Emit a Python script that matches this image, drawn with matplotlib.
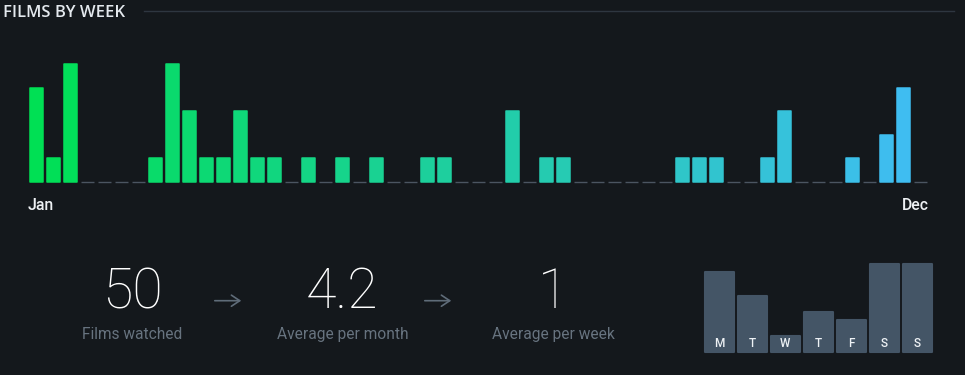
import numpy as np
import matplotlib
matplotlib.use("Agg")
import matplotlib.pyplot as plt
from matplotlib.colors import to_rgb
from matplotlib.lines import Line2D

# ---------------- data ----------------
weekly_films = [4, 1, 5, 0, 0, 0, 0, 1, 5, 3, 1, 1, 3, 1, 1, 0, 1, 0, 1, 0,
                1, 0, 0, 1, 1, 0, 0, 0, 3, 0, 1, 1, 0, 0, 0, 0, 0, 0, 1, 1,
                1, 0, 0, 1, 3, 0, 0, 0, 1, 0, 2, 4, 0]
axis_labels = ["Jan", "Dec"]
title = "FILMS BY WEEK"
stat_values = ["50", "4.2", "1"]
stat_labels = ["Films watched", "Average per month", "Average per week"]
day_labels = ["M", "T", "W", "T", "F", "S", "S"]
day_counts = [10, 7, 2, 5, 4, 11, 11]

# ---------------- style ----------------
BG = "#14181c"
W, H = 965, 375
fig = plt.figure(figsize=(W / 100, H / 100), dpi=100, facecolor=BG)

def fx(px):
    return px / W

def fy(py):
    return (H - py) / H

# title + rule
fig.text(fx(3), fy(17.3), title, color="#e4e9ee", fontsize=12,
         family="Open Sans", fontweight="semibold", va="baseline", ha="left")
fig.add_artist(Line2D([fx(144), fx(954)], [fy(11.3), fy(11.3)],
                      color="#2e3640", lw=1.0, transform=fig.transFigure))

# ---------------- weekly chart ----------------
n = len(weekly_films)
ax = fig.add_axes([fx(28), fy(181.7), fx(929) - fx(28), 5.5 * 23.45 / H])
ax.set_facecolor("none")
ax.set_xlim(-0.5, n - 0.5)
ax.set_ylim(0, 5.5)
ax.axis("off")

c0 = np.array(to_rgb("#00e054"))
c1 = np.array(to_rgb("#40bcf4"))
t = np.linspace(0, 1, n)
colors = [tuple(c0 + (c1 - c0) * ti) for ti in t]

xs = np.arange(n)
vals = np.array(weekly_films)
for x, v, c in zip(xs, vals, colors):
    if v > 0:
        ax.bar(x, v, width=0.79, color=c, edgecolor=c, linewidth=1.1,
               joinstyle="round", zorder=3, clip_on=False)
    else:
        ax.hlines(0, x - 0.39, x + 0.39, color="#4b5561", lw=1.0, zorder=2,
                  clip_on=False)

fig.text(fx(28), fy(210), axis_labels[0], color="#eef1f4", fontsize=11.3,
         family="Roboto", fontweight="medium", ha="left", va="baseline")
fig.text(fx(928.5), fy(210), axis_labels[1], color="#eef1f4", fontsize=11.3,
         family="Roboto", fontweight="medium", ha="right", va="baseline")

# ---------------- stats ----------------
centers = [132.5, 342.5, 553]
for cx, val, lab in zip(centers, stat_values, stat_labels):
    fig.text(fx(cx), fy(308.3), val, color="#ffffff", fontsize=40,
             family="Roboto", fontweight="light", ha="center", va="baseline")
    fig.text(fx(cx), fy(339.3), lab, color="#67737f", fontsize=11.2,
             family="Roboto", ha="center", va="baseline")

for ax0, ax1 in [(212, 244), (422, 454)]:
    fig.add_artist(matplotlib.patches.FancyArrowPatch(
        (fx(ax0), fy(300.7)), (fx(ax1), fy(300.7)),
        transform=fig.transFigure, arrowstyle="->,head_length=6,head_width=4",
        color="#5f6c79", lw=1.2, mutation_scale=1))

# ---------------- day-of-week chart ----------------
axd = fig.add_axes([fx(702.8), fy(351.7), fx(933.8) - fx(702.8), 96 / H])
axd.set_facecolor("none")
axd.set_xlim(-0.5, len(day_counts) - 0.5)
axd.set_ylim(0, 12)
axd.axis("off")
dx = np.arange(len(day_counts))
axd.bar(dx, day_counts, width=0.88, color="#445566", edgecolor="#445566",
        linewidth=1.5, joinstyle="round", zorder=2, clip_on=False)
for x, lab in zip(dx, day_labels):
    axd.text(x, 4.7 / 8, lab, color="#eef2f5", fontsize=8.5, fontweight="medium",
             family="Roboto", ha="center", va="baseline", zorder=3)

fig.savefig("out.png", dpi=100, facecolor=BG)
